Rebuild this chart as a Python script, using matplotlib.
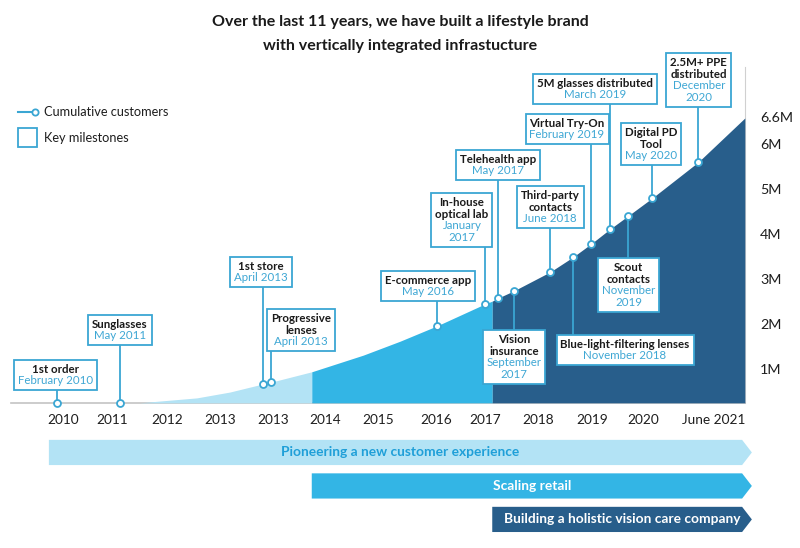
import numpy as np
import matplotlib.pyplot as plt
from matplotlib.patches import Polygon, Rectangle
from matplotlib.lines import Line2D
from matplotlib.offsetbox import TextArea, VPacker, AnnotationBbox

plt.rcParams['font.family'] = ['Lato', 'DejaVu Sans']

# x axis: one unit ~ one label step of the timeline
tick_pos = [0, 0.90, 1.92, 2.90, 3.87, 4.83, 5.81, 6.88, 7.79, 8.76, 9.76, 10.70, 12.01]
tick_labels = ['2010', '2011', '2012', '2013', '2013', '2014', '2015', '2016',
               '2017', '2018', '2019', '2020', 'June 2021']

# cumulative customers (millions)
curve_x = [1.42, 1.79, 2.47, 3.08, 3.69, 3.84, 4.59, 5.54, 6.22, 6.90, 7.79, 7.92,
           8.03, 8.32, 8.99, 9.41, 9.74, 10.09, 10.42, 10.87, 11.72, 12.58]
curve_m = [0.27, 0.31, 0.38, 0.51, 0.69, 0.73, 0.96, 1.33, 1.64, 1.98, 2.47, 2.53,
           2.60, 2.76, 3.18, 3.51, 3.80, 4.13, 4.42, 4.82, 5.62, 6.60]

y_ticks = [1, 2, 3, 4, 5, 6, 6.6]
y_labels = ['1M', '2M', '3M', '4M', '5M', '6M', '6.6M']

phase_start = [1.42, 4.59, 7.92]
phase_end = 12.58

bar_names = ['Pioneering a new customer experience', 'Scaling retail',
             'Building a holistic vision care company']
bar_start = [-0.26, 4.59, 7.92]
bar_end = 12.53
bar_tip = 12.71

ms_title = ['1st order', 'Sunglasses', '1st store', 'Progressive\nlenses', 'E-commerce app',
            'In-house\noptical lab', 'Telehealth app', 'Vision\ninsurance',
            'Third-party\ncontacts', 'Blue-light-filtering lenses', 'Virtual Try-On',
            '5M glasses distributed', 'Scout\ncontacts', 'Digital PD\nTool',
            '2.5M+ PPE\ndistributed']
ms_date = ['February 2010', 'May 2011', 'April 2013', 'April 2013', 'May 2016',
           'January\n2017', 'May 2017', 'September\n2017', 'June 2018', 'November 2018',
           'February 2019', 'March 2019', 'November\n2019', 'May 2020', 'December\n2020']
ms_x = [-0.11, 1.05, 3.69, 3.84, 6.90, 7.79, 8.03, 8.32, 8.99, 9.41, 9.74, 10.09,
        10.42, 10.87, 11.72]
ms_m = [0, 0, 0.69, 0.73, 1.98, 2.47, 2.60, 2.76, 3.18, 3.51, 3.80, 4.13, 4.42, 4.82, 5.62]
# where the label boxes sit
box_x = [-0.13, 1.05, 3.65, 4.39, 6.73, 7.36, 8.03, 8.32, 8.99, 10.37, 9.30, 9.82,
         10.44, 10.85, 11.73]
box_y = [0.89, 1.89, 3.18, 1.89, 2.87, 4.33, 5.56, 1.29, 4.62, 1.44, 6.36, 7.24,
         2.89, 6.02, 7.44]

FLOOR = 0.27
LIGHT = '#b3e3f5'
MID = '#33b5e5'
DARK = '#285e8b'
LINE = '#3aa6d3'
DATE = '#3ea7d4'

fig = plt.figure(figsize=(8, 5.48), dpi=100)
ax = fig.add_axes([0, 0, 1, 1])
ax.set_xlim(-1.162, 13.598)
ax.set_ylim(-2.956, 9.222)
ax.axis('off')

cx = np.array(curve_x)
cm = np.array(curve_m)

# area under the curve, one colour per phase
ax.plot([phase_end, phase_end], [FLOOR, 7.73], color='#d0d0d0', lw=0.8, zorder=0)
ax.plot([-0.96, phase_end], [FLOOR, FLOOR], color='#c4c4c4', lw=1.2, zorder=1)
ends = phase_start[1:] + [phase_end]
for a, b, c in zip(phase_start, ends, [LIGHT, MID, DARK]):
    mask = (cx >= a - 1e-9) & (cx <= b + 1e-9)
    ax.fill_between(cx[mask], FLOOR, cm[mask], color=c, lw=0, zorder=2)

# milestones
for t, d, x, m, bx, by in zip(ms_title, ms_date, ms_x, ms_m, box_x, box_y):
    dy = max(m, FLOOR)
    ax.plot([x, x], [dy, by], color=LINE, lw=1.3, zorder=3)
    ax.plot(x, dy, 'o', ms=5, mfc='white', mec=LINE, mew=1.3, zorder=6)
    t1 = TextArea(t, textprops=dict(fontsize=8.3, fontweight='bold', color='#1a1a1a',
                                    multialignment='center', linespacing=1.1))
    t2 = TextArea(d, textprops=dict(fontsize=8.3, color=DATE,
                                    multialignment='center', linespacing=1.1))
    pack = VPacker(children=[t1, t2], align='center', pad=0, sep=0)
    ab = AnnotationBbox(pack, (bx, by), xycoords='data', frameon=True, pad=0.28,
                        bboxprops=dict(edgecolor=LINE, linewidth=1.3, facecolor='white'),
                        zorder=5)
    ax.add_artist(ab)

# axis labels
for p, lab in zip(tick_pos, tick_labels):
    ax.text(p, -0.11, lab, ha='center', va='center', fontsize=9.8, color='#1e1e1e')
for v, lab in zip(y_ticks, y_labels):
    ax.text(12.86, v, lab, ha='left', va='center', fontsize=10.3, color='#1e1e1e')

# phase arrows
bar_fc = [LIGHT, MID, DARK]
bar_tc = ['#1f9fd8', 'white', 'white']
for k, (name, s) in enumerate(zip(bar_names, bar_start)):
    yc = -0.833 - 0.744 * k
    h = 0.28
    pts = [(s, yc - h), (bar_end, yc - h), (bar_tip, yc), (bar_end, yc + h), (s, yc + h)]
    ax.add_patch(Polygon(pts, closed=True, fc=bar_fc[k], ec='none', zorder=2))
    ax.text((s + bar_tip) / 2, yc, name, ha='center', va='center', fontsize=9.9,
            fontweight='bold', color=bar_tc[k], zorder=3)

# title
fig.text(0.5, 1 - 22 / 548, 'Over the last 11 years, we have built a lifestyle brand',
         ha='center', va='center', fontsize=11.5, fontweight='bold', color='#1a1a1a')
fig.text(0.5, 1 - 46 / 548, 'with vertically integrated infrastucture',
         ha='center', va='center', fontsize=11.5, fontweight='bold', color='#1a1a1a')

# legend
fig.add_artist(Line2D([18 / 800, 33 / 800], [1 - 112 / 548] * 2, color=LINE, lw=1.5,
                      transform=fig.transFigure))
fig.add_artist(Line2D([35 / 800], [1 - 112 / 548], marker='o', ms=4.5, mfc='white',
                      mec=LINE, mew=1.3, transform=fig.transFigure))
fig.text(44 / 800, 1 - 112 / 548, 'Cumulative customers', ha='left', va='center',
         fontsize=9.2, color='#1e1e1e')
fig.add_artist(Rectangle((18 / 800, 1 - 147 / 548), 19 / 800, 19 / 548, fc='white',
                         ec=LINE, lw=1.3, transform=fig.transFigure))
fig.text(44 / 800, 1 - 138 / 548, 'Key milestones', ha='left', va='center',
         fontsize=9.2, color='#1e1e1e')

fig.savefig('out.png', dpi=100)
